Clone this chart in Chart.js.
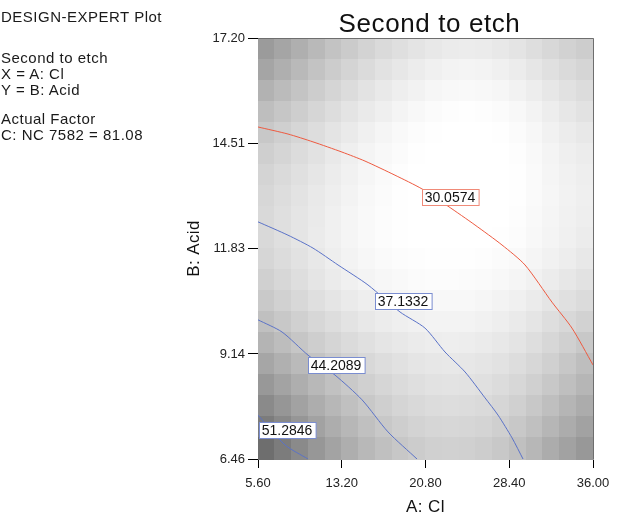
<!DOCTYPE html>
<html>
<head>
<meta charset="utf-8">
<script src="https://cdn.jsdelivr.net/npm/chart.js@4.4.1/dist/chart.umd.min.js"></script>
<style>
  body{ margin:0; background:#fff; }
  #wrap{ position:relative; width:620px; height:516px; }
  #plot{ position:absolute; left:0; top:0; }
  .note{ position:absolute; left:1px; font:15px "Liberation Sans", Arial, sans-serif; color:#1a1a1a; letter-spacing:0.5px; white-space:nowrap; line-height:16px; }
</style>
</head>
<body>
<div id="wrap">
  <canvas id="plot" width="620" height="516"></canvas>
  <div class="note" style="top:9px">DESIGN-EXPERT Plot</div>
  <div class="note" style="top:50px">Second to etch</div>
  <div class="note" style="top:66px">X = A: Cl</div>
  <div class="note" style="top:82px">Y = B: Acid</div>
  <div class="note" style="top:111px">Actual Factor</div>
  <div class="note" style="top:127px">C: NC 7582 = 81.08</div>
</div>
<script>

const xTicks = [5.60, 13.20, 20.80, 28.40, 36.00];
const yTicks = [6.46, 9.14, 11.83, 14.51, 17.20];

// contour lines
const c30x = [5.60, 8.32, 10.59, 13.22, 15.31, 18.03, 20.48, 22.84, 25.29, 27.74, 29.83, 32.28, 34.09, 36.00];
const c30y = [14.93, 14.75, 14.55, 14.29, 14.06, 13.70, 13.35, 12.91, 12.43, 11.92, 11.41, 10.46, 9.80, 8.86];

const c37x = [5.60, 8.32, 10.59, 12.86, 15.58, 18.49, 20.75, 22.57, 24.39, 26.20, 27.38, 28.65, 29.65];
const c37y = [12.51, 12.17, 11.84, 11.41, 10.90, 10.21, 9.80, 9.19, 8.68, 8.02, 7.58, 7.00, 6.46];

const c44x = [5.60, 7.78, 10.14, 12.59, 15.04, 17.40, 20.03];
const c44y = [10.01, 9.70, 9.11, 8.60, 7.97, 7.15, 6.46];

const c51x = [5.60, 8.05, 10.14];
const c51y = [7.58, 6.82, 6.46];

const levels = ["30.0574", "37.1332", "44.2089", "51.2846"];
const labelX = [23.02, 18.76, 12.68, 8.23];
const labelY = [13.14, 10.49, 8.86, 7.20];

// gray level of each cell, top row first, left to right
const shade = [
  [155,165,175,185,195,203,211,218,223,228,232,235,236,235,232,228,222,216,210,205],
  [165,175,185,195,204,212,219,226,231,236,240,243,244,243,240,236,230,224,218,213],
  [178,187,196,205,213,220,227,233,238,242,246,248,249,248,246,242,237,231,225,220],
  [190,198,206,214,221,228,234,239,244,248,251,253,254,253,251,248,243,237,231,226],
  [200,207,214,221,228,234,240,245,249,252,254,255,255,255,254,251,247,241,236,232],
  [207,213,220,226,233,239,244,248,251,254,255,255,255,255,255,253,249,244,239,236],
  [212,218,224,230,236,241,246,250,253,255,255,255,255,255,255,254,250,245,241,238],
  [215,221,227,233,238,243,248,251,254,255,255,255,255,255,255,254,250,246,242,239],
  [217,223,229,234,240,245,249,252,254,255,255,255,255,255,255,253,249,245,241,238],
  [217,223,229,235,240,245,249,252,254,255,255,255,255,255,254,252,248,244,240,236],
  [214,220,226,232,238,243,247,250,252,253,254,254,254,253,251,249,245,241,237,232],
  [208,215,222,229,235,240,244,247,249,251,252,252,251,250,248,245,241,236,231,226],
  [201,209,216,223,229,234,238,242,245,247,248,248,248,246,243,240,235,229,224,219],
  [192,200,208,215,221,227,232,236,239,241,243,243,243,241,238,234,229,222,216,210],
  [180,189,198,206,213,219,224,229,232,235,237,238,237,235,232,228,222,215,208,200],
  [166,176,186,195,203,210,216,221,225,229,231,232,231,229,226,221,215,208,199,190],
  [152,163,174,184,193,201,208,214,219,223,226,227,226,224,220,215,208,200,191,182],
  [138,150,162,173,183,192,200,207,213,217,220,221,220,218,214,208,200,191,181,172],
  [124,137,150,162,173,183,192,200,206,211,214,215,214,212,207,200,192,182,172,162],
  [110,124,138,151,163,174,184,192,199,204,208,209,208,205,200,192,183,172,162,152]
];

const FONT = '"Liberation Sans", Arial, sans-serif';

function pts(xs, ys){
    return xs.map((x, i) => ({x: x, y: ys[i]}));
}

function line(data, color){
    return {
        data: data,
        showLine: true,
        borderColor: color,
        borderWidth: 1,
        pointRadius: 0,
        tension: 0.25,
        fill: false
    };
}

const shadePlugin = {
    id: "shade",
    beforeDatasetsDraw(chart){
        const ctx = chart.ctx;
        const xs = chart.scales.x;
        const ys = chart.scales.y;
        const rows = shade.length;
        const cols = shade[0].length;
        const dx = (xTicks[4] - xTicks[0]) / cols;
        const dy = (yTicks[4] - yTicks[0]) / rows;
        ctx.save();
        for(let r = 0; r < rows; r++){
            for(let c = 0; c < cols; c++){
                const x0 = xs.getPixelForValue(xTicks[0] + c * dx);
                const x1 = xs.getPixelForValue(xTicks[0] + (c + 1) * dx);
                const y0 = ys.getPixelForValue(yTicks[4] - r * dy);
                const y1 = ys.getPixelForValue(yTicks[4] - (r + 1) * dy);
                const g = shade[r][c];
                ctx.fillStyle = `rgb(${g},${g},${g})`;
                ctx.fillRect(Math.floor(x0), Math.floor(y0), Math.ceil(x1 - x0) + 1, Math.ceil(y1 - y0) + 1);
            }
        }
        ctx.restore();
    }
};

const labelPlugin = {
    id: "labels",
    afterDatasetsDraw(chart){
        const ctx = chart.ctx;
        const xs = chart.scales.x;
        const ys = chart.scales.y;
        const a = chart.chartArea;

        ctx.save();
        // frame top and right
        ctx.strokeStyle = "#6e6e6e";
        ctx.lineWidth = 1;
        ctx.beginPath();
        ctx.moveTo(a.left, a.top + 0.5);
        ctx.lineTo(a.right + 0.5, a.top + 0.5);
        ctx.lineTo(a.right + 0.5, a.bottom);
        ctx.stroke();

        ctx.font = "14px " + FONT;
        ctx.textBaseline = "middle";
        ctx.textAlign = "center";
        levels.forEach((txt, i) => {
            const cx = xs.getPixelForValue(labelX[i]);
            const cy = ys.getPixelForValue(labelY[i]);
            const w = ctx.measureText(txt).width + 6;
            const h = 16;
            const bx = Math.round(cx - w / 2) + 0.5;
            const by = Math.round(cy - h / 2) + 0.5;
            ctx.fillStyle = "#fff";
            ctx.fillRect(bx, by, w, h);
            ctx.strokeStyle = i == 0 ? "#f08a78" : "#7a8dd0";
            ctx.strokeRect(bx, by, w, h);
            ctx.fillStyle = "#111";
            ctx.fillText(txt, cx, cy + 1);
        });

        // titles
        ctx.fillStyle = "#111";
        ctx.font = "26px " + FONT;
        ctx.letterSpacing = "0.6px";
        ctx.textBaseline = "alphabetic";
        ctx.fillText("Second to etch", (a.left + a.right) / 2 + 4, 32);

        ctx.font = "17px " + FONT;
        ctx.letterSpacing = "0.4px";
        ctx.fillText("A: Cl", (a.left + a.right) / 2, 512);

        ctx.translate(199, (a.top + a.bottom) / 2);
        ctx.rotate(-Math.PI / 2);
        ctx.fillText("B: Acid", 0, 0);
        ctx.restore();
    }
};

window.onload = () => {

    const ctx = document.getElementById("plot");

    new Chart(ctx, {
        type: "scatter",
        data: {
            datasets: [
                line(pts(c30x, c30y), "#ee5a40"),
                line(pts(c37x, c37y), "#5a72c8"),
                line(pts(c44x, c44y), "#5a72c8"),
                line(pts(c51x, c51y), "#5a72c8")
            ]
        },
        options: {
            responsive: false,
            animation: false,
            events: [],
            layout: {
                padding: {top: 38, right: 27, left: 0, bottom: 0}
            },
            plugins: {
                legend: {display: false},
                tooltip: {enabled: false}
            },
            scales: {
                x: {
                    type: "linear",
                    min: xTicks[0],
                    max: xTicks[4],
                    afterBuildTicks: (s) => { s.ticks = xTicks.map(v => ({value: v})); },
                    afterFit: (s) => { s.height = 57; },
                    border: {display: true, color: "#000", width: 1},
                    grid: {drawOnChartArea: false, drawTicks: true, tickLength: 9, color: "#000"},
                    ticks: {
                        autoSkip: false,
                        maxRotation: 0,
                        padding: 8,
                        color: "#222",
                        font: {family: FONT, size: 13},
                        callback: (v) => Number(v).toFixed(2)
                    }
                },
                y: {
                    type: "linear",
                    min: yTicks[0],
                    max: yTicks[4],
                    afterBuildTicks: (s) => { s.ticks = yTicks.map(v => ({value: v})); },
                    afterFit: (s) => { s.width = 258; },
                    border: {display: true, color: "#000", width: 1},
                    grid: {drawOnChartArea: false, drawTicks: true, tickLength: 10, color: "#000"},
                    ticks: {
                        autoSkip: false,
                        padding: 3,
                        color: "#222",
                        font: {family: FONT, size: 13},
                        callback: (v) => Number(v).toFixed(2)
                    }
                }
            }
        },
        plugins: [shadePlugin, labelPlugin]
    });
};
</script>
</body>
</html>
